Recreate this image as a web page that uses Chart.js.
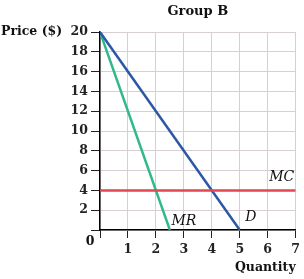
<!DOCTYPE html>
<html>
<head>
<meta charset="utf-8">
<script src="https://cdn.jsdelivr.net/npm/chart.js@4/dist/chart.umd.min.js"></script>
<style>
  html, body { margin: 0; padding: 0; background: #fff; }
  #wrap { width: 304px; height: 279px; position: relative; }
</style>
</head>
<body>
<div id="wrap"><canvas id="chart"></canvas></div>
<script>
// data
const demandQty = [0, 5];
const demandPrice = [20, 0];
const mrQty = [0, 2.5];
const mrPrice = [20, 0];
const mcQty = [0, 7];
const mcPrice = [4, 4];
const xTicks = [1, 2, 3, 4, 5, 6, 7];
const yTicks = [2, 4, 6, 8, 10, 12, 14, 16, 18, 20];

const serif = 'DejaVu Serif';

function toPoints(xs, ys) {
    return xs.map((x, i) => ({x: x, y: ys[i]}));
}

const textPlugin = {
    id: 'texts',
    afterDraw(chart) {
        const ctx = chart.ctx;
        const xs = chart.scales.x;
        const ys = chart.scales.y;
        const area = chart.chartArea;
        ctx.save();
        ctx.fillStyle = '#111';
        ctx.textBaseline = 'middle';

        ctx.font = 'bold 13px "' + serif + '"';
        ctx.textAlign = 'center';
        ctx.fillText('Group B', (area.left + area.right) / 2, 12);

        ctx.font = 'bold 12.5px "' + serif + '"';
        ctx.textAlign = 'left';
        ctx.fillText('Price ($)', 1, ys.getPixelForValue(20));

        ctx.textAlign = 'center';
        ctx.fillText('0', area.left - 10, area.bottom + 12);

        ctx.textAlign = 'right';
        ctx.fillText('Quantity', area.right, 268);

        // curve labels
        ctx.font = 'italic 14px "' + serif + '"';
        ctx.textAlign = 'center';
        ctx.fillText('MC', xs.getPixelForValue(6.5), ys.getPixelForValue(5.3));
        ctx.fillText('MR', xs.getPixelForValue(3.0), ys.getPixelForValue(0.9));
        ctx.fillText('D', xs.getPixelForValue(5.4), ys.getPixelForValue(1.3));
        ctx.restore();
    }
};

const ctx = document.getElementById('chart').getContext('2d');
const chart = new Chart(ctx, {
    type: 'scatter',
    data: {
        datasets: [
            {label: 'MC', data: toPoints(mcQty, mcPrice), borderColor: '#e2464f'},
            {label: 'D', data: toPoints(demandQty, demandPrice), borderColor: '#2c57a6'},
            {label: 'MR', data: toPoints(mrQty, mrPrice), borderColor: '#32b98a'}
        ].map(d => Object.assign(d, {showLine: true, borderWidth: 2.5, pointRadius: 0, fill: false}))
    },
    options: {
        responsive: true,
        maintainAspectRatio: false,
        animation: false,
        layout: {padding: {left: 0, right: 5, top: 32, bottom: 0}},
        plugins: {legend: {display: false}, tooltip: {enabled: false}},
        scales: {
            x: {
                type: 'linear', min: 0, max: 7,
                afterBuildTicks: s => { s.ticks = [0].concat(xTicks).map(v => ({value: v})); },
                afterFit: s => { s.height = 49; },
                ticks: {
                    callback: v => v === 0 ? '' : v,
                    color: '#222', padding: 4, maxRotation: 0,
                    font: {family: serif, size: 12.5, weight: 'bold'}
                },
                grid: {color: '#d8ced4', lineWidth: 1, tickColor: '#222', tickLength: 8},
                border: {color: '#000', width: 1.5}
            },
            y: {
                type: 'linear', min: 0, max: 20,
                afterBuildTicks: s => { s.ticks = [0].concat(yTicks).map(v => ({value: v})); },
                afterFit: s => { s.width = 100; },
                ticks: {
                    callback: v => v === 0 ? '' : v,
                    color: '#222', padding: 3,
                    font: {family: serif, size: 12.5, weight: 'bold'}
                },
                grid: {color: '#d8ced4', lineWidth: 1, tickColor: '#222', tickLength: 9},
                border: {color: '#000', width: 1.5}
            }
        }
    },
    plugins: [textPlugin]
});
</script>
</body>
</html>
